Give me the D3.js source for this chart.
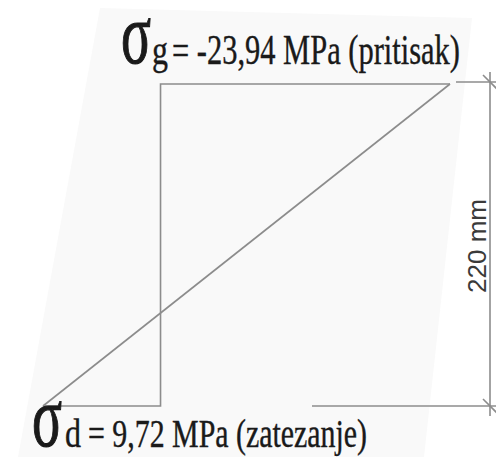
<!DOCTYPE html>
<html>
<head>
<meta charset="utf-8">
<script src="https://cdn.jsdelivr.net/npm/d3@7"></script>
<style>
  body { margin: 0; background: #fff; }
  svg { display: block; }
</style>
</head>
<body>
<div id="chart"></div>
<script>
'use strict';

var width = 496;
var height = 457;

// stresses at top (g) and bottom (d) fibre, MPa
var stressNames = ['g', 'd'];
var stressValues = [-23.94, 9.72];
var stressNotes = ['(pritisak)', '(zatezanje)'];
// section depth, mm
var depths = [0, 220];
var depthLabel = '220 mm';

var lineColor = '#8c8c8c';
var textColor = '#1a1a1a';

var svg = d3.select('#chart')
    .append('svg')
    .attr('width', width)
    .attr('height', height);

// faint scanned-paper background
svg.append('polygon')
    .attr('points', '100,8 472,18 424,457 18,457')
    .attr('fill', '#f9f9f9');

var x = d3.scaleLinear()
    .domain([stressValues[0], stressValues[1]])
    .range([450, 43]);

var y = d3.scaleLinear()
    .domain(d3.extent(depths))
    .range([84, 406]);

var yTop = y(depths[0]), yBot = y(depths[1]);
var x0 = x(0), xg = x(stressValues[0]), xd = x(stressValues[1]);

var g = svg.append('g')
    .attr('stroke', lineColor)
    .attr('stroke-width', 1.6)
    .attr('fill', 'none');

// stress diagram outline
g.append('path')
    .attr('d', 'M' + xg + ',' + yTop + 'L' + x0 + ',' + yTop + 'L' + x0 + ',' + yBot + 'L' + xd + ',' + yBot);

// linear stress distribution
g.append('line')
    .attr('x1', xg).attr('y1', yTop)
    .attr('x2', xd).attr('y2', yBot);

// dimension
var dimX = 490;
g.append('line')
    .attr('x1', xg + 6).attr('y1', yTop - 2)
    .attr('x2', width).attr('y2', yTop - 2);
g.append('line')
    .attr('x1', 312).attr('y1', yBot)
    .attr('x2', width).attr('y2', yBot);
g.append('line')
    .attr('x1', dimX).attr('y1', yTop - 12)
    .attr('x2', dimX).attr('y2', yBot + 10);
[yTop - 2, yBot].forEach(function(d) {
    g.append('line')
        .attr('x1', dimX - 7).attr('y1', d - 7)
        .attr('x2', dimX + 7).attr('y2', d + 7);
});

svg.append('text')
    .attr('transform', 'translate(486,' + ((yTop + yBot) / 2 + 1) + ') rotate(-90)')
    .attr('text-anchor', 'middle')
    .attr('font-family', 'Liberation Sans, Arial, sans-serif')
    .attr('font-size', 26)
    .attr('fill', '#3a3a3a')
    .text(depthLabel);

// labels
function fmt(v) {
    return String(v.toFixed(2)).replace('.', ',');
}

var labels = [
    {name: stressNames[0], value: stressValues[0], note: stressNotes[0],
     sx: 121, base: 64, sub: 152, rest: 172, restEnd: 460, fs: 42},
    {name: stressNames[1], value: stressValues[1], note: stressNotes[1],
     sx: 32, base: 447, sub: 65, rest: 88, restEnd: 367, fs: 40}
];

labels.forEach(function(d) {
    var t = svg.append('g')
        .attr('font-family', 'Liberation Serif, Times New Roman, serif')
        .attr('fill', textColor)
        .attr('stroke', textColor)
        .attr('stroke-width', 0.4);
    t.append('text')
        .attr('x', d.sx).attr('y', d.base - 1)
        .attr('font-size', 86)
        .attr('stroke-width', 1.2)
        .attr('textLength', 30)
        .attr('lengthAdjust', 'spacingAndGlyphs')
        .text('\u03c3');
    t.append('text')
        .attr('x', d.sub).attr('y', d.base)
        .attr('font-size', d.fs)
        .attr('textLength', 16)
        .attr('lengthAdjust', 'spacingAndGlyphs')
        .text(d.name);
    t.append('text')
        .attr('x', d.rest).attr('y', d.base)
        .attr('font-size', d.fs)
        .attr('textLength', d.restEnd - d.rest)
        .attr('lengthAdjust', 'spacingAndGlyphs')
        .text('= ' + fmt(d.value) + ' MPa ' + d.note);
});
</script>
</body>
</html>
